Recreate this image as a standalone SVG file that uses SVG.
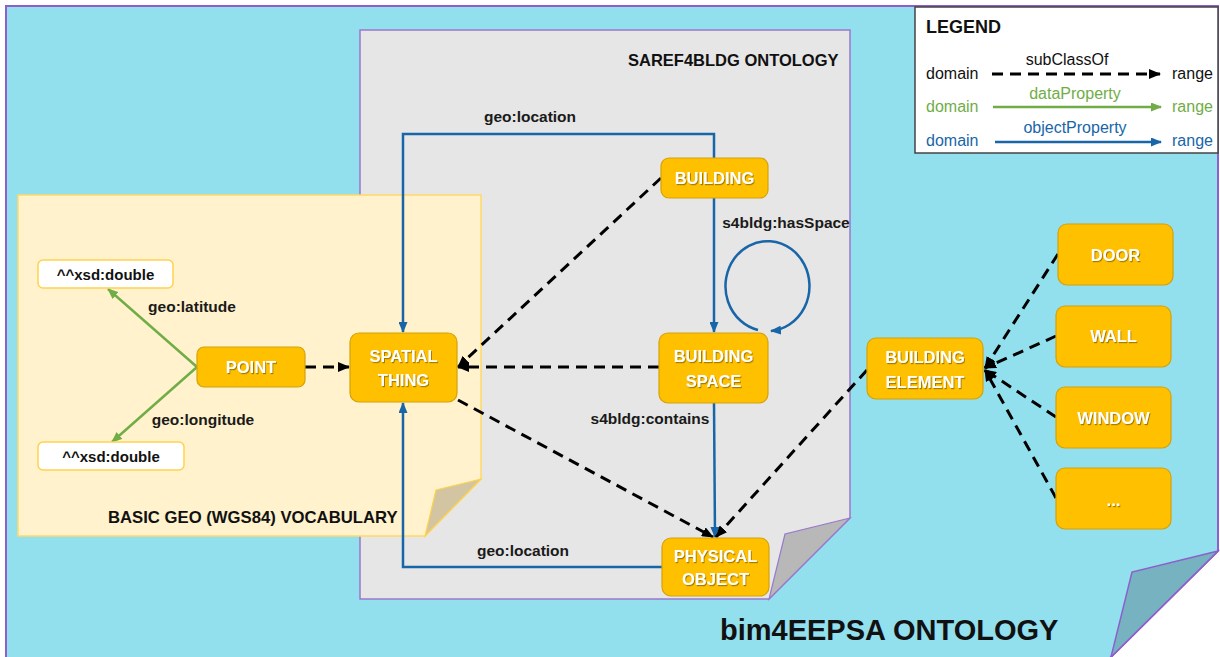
<svg xmlns="http://www.w3.org/2000/svg" width="1220" height="657" viewBox="0 0 1220 657">
<defs>
<style>
.node{fill:#ffc000;stroke:#d4a20a;stroke-width:1.2}
.lit{fill:#ffffff;stroke:#ffd24d;stroke-width:1.5}
.nt{font-family:"Liberation Sans",Arial,sans-serif;font-weight:bold;font-size:16.5px;fill:#ffffff;text-anchor:middle;filter:url(#ts)}
.lt{font-family:"Liberation Sans",Arial,sans-serif;font-weight:bold;font-size:15px;fill:#111111;text-anchor:middle}
.el{font-family:"Liberation Sans",Arial,sans-serif;font-weight:bold;font-size:15.5px;fill:#1a1a1a;text-anchor:middle}
.title{font-family:"Liberation Sans",Arial,sans-serif;font-weight:bold;font-size:16.5px;fill:#111111}
.lg{font-family:"Liberation Sans",Arial,sans-serif;font-size:16px}
.sub{fill:none;stroke:#000;stroke-width:3;stroke-dasharray:11 7}
.obj{fill:none;stroke:#1866a8;stroke-width:2.5}
.dat{fill:none;stroke:#70ad47;stroke-width:2.5}
</style>
<filter id="ts" x="-10%" y="-20%" width="130%" height="150%">
<feDropShadow dx="1" dy="1.2" stdDeviation="0.6" flood-color="#5a4200" flood-opacity="0.55"/>
</filter>
<marker id="ab" markerWidth="12" markerHeight="10" refX="11" refY="5" orient="auto" markerUnits="userSpaceOnUse"><path d="M0,0 L12,5 L0,10 Z" fill="#000"/></marker>
<marker id="au" markerWidth="11" markerHeight="9" refX="10" refY="4.5" orient="auto" markerUnits="userSpaceOnUse"><path d="M0,0 L11,4.5 L0,9 Z" fill="#1866a8"/></marker>
<marker id="ag" markerWidth="11" markerHeight="9" refX="10" refY="4.5" orient="auto" markerUnits="userSpaceOnUse"><path d="M0,0 L11,4.5 L0,9 Z" fill="#70ad47"/></marker>
</defs>

<g id="bim4eepsa-panel">
<path d="M6,6 H1218 V551 L1108,660 H6 Z" fill="#92dfee" stroke="#8e5ecc" stroke-width="2"/>
<path d="M1218,551 L1132,572 L1111,657 Z" fill="#76b2bf" stroke="#8e5ecc" stroke-width="1.5"/>
<text class="title" x="720" y="640" style="font-size:29px">bim4EEPSA ONTOLOGY</text>
</g>

<g id="saref4bldg-panel">
<path d="M360,30 H850 V518 L769,599 H360 Z" fill="#e6e6e6" stroke="#9a78cc" stroke-width="1.5"/>
<path d="M850,518 L785,534 L769,599 Z" fill="#b8b8b8" stroke="#9a78cc" stroke-width="1.2"/>
<text class="title" x="628" y="66">SAREF4BLDG ONTOLOGY</text>
</g>

<g id="geo-panel">
<path d="M18,195 H481 V479 L425,536 H18 Z" fill="#fff2cc" stroke="#ffd966" stroke-width="1.5"/>
<path d="M481,479 L436,490 L425,536 Z" fill="#d3c5a1" stroke="#ffd24d" stroke-width="1.2"/>
<text class="title" x="108" y="523" style="font-size:16.7px">BASIC GEO (WGS84) VOCABULARY</text>
</g>

<g id="legend">
<rect x="915" y="7" width="303" height="146" fill="#ffffff" stroke="#444" stroke-width="1.5"/>
<text class="title" x="926" y="33" style="font-size:18px">LEGEND</text>
<text class="lg" x="1067" y="65" text-anchor="middle" fill="#111">subClassOf</text>
<text class="lg" x="926" y="79" fill="#111">domain</text>
<line class="sub" x1="992" y1="74" x2="1160" y2="74" marker-end="url(#ab)"/>
<text class="lg" x="1172" y="79" fill="#111">range</text>
<text class="lg" x="1075" y="99" text-anchor="middle" fill="#70ad47">dataProperty</text>
<text class="lg" x="926" y="112" fill="#70ad47">domain</text>
<line class="dat" x1="993" y1="107" x2="1161" y2="107" marker-end="url(#ag)"/>
<text class="lg" x="1172" y="112" fill="#70ad47">range</text>
<text class="lg" x="1075" y="133" text-anchor="middle" fill="#1866a8">objectProperty</text>
<text class="lg" x="926" y="146" fill="#1866a8">domain</text>
<line class="obj" x1="995" y1="142" x2="1161" y2="142" marker-end="url(#au)"/>
<text class="lg" x="1172" y="146" fill="#1866a8">range</text>
</g>

<g id="connectors">
<path class="obj" d="M714,158 V134 H403 V332" marker-end="url(#au)"/>
<path class="obj" d="M662,567 H403 V403" marker-end="url(#au)"/>
<path class="obj" d="M714,198 V332" marker-end="url(#au)"/>
<path class="obj" d="M758,330 A42 45 0 1 1 771,331" marker-end="url(#au)"/>
<path class="obj" d="M714,403 L715,537" marker-end="url(#au)"/>
<line class="dat" x1="197" y1="367" x2="108" y2="289" marker-end="url(#ag)"/>
<line class="dat" x1="197" y1="367" x2="112" y2="442" marker-end="url(#ag)"/>
<line class="sub" x1="305" y1="367" x2="349" y2="367" marker-end="url(#ab)"/>
<line class="sub" x1="661" y1="178" x2="458" y2="367" marker-end="url(#ab)"/>
<line class="sub" x1="659" y1="367" x2="458" y2="367" marker-end="url(#ab)"/>
<line class="sub" x1="458" y1="400" x2="713" y2="537" marker-end="url(#ab)"/>
<line class="sub" x1="867" y1="370" x2="716" y2="537" marker-end="url(#ab)"/>
<line class="sub" x1="1058" y1="254" x2="985" y2="368" marker-end="url(#ab)"/>
<line class="sub" x1="1056" y1="336" x2="985" y2="368" marker-end="url(#ab)"/>
<line class="sub" x1="1056" y1="417" x2="985" y2="370" marker-end="url(#ab)"/>
<line class="sub" x1="1056" y1="498" x2="985" y2="370" marker-end="url(#ab)"/>
<text class="el" x="530" y="122">geo:location</text>
<text class="el" x="523" y="556">geo:location</text>
<text class="el" x="786" y="228">s4bldg:hasSpace</text>
<text class="el" x="650" y="424">s4bldg:contains</text>
<text class="el" x="192" y="312">geo:latitude</text>
<text class="el" x="203" y="425">geo:longitude</text>
</g>

<g id="building">
<rect class="node" x="661" y="158" width="107" height="40" rx="8"/>
<text class="nt" x="714.5" y="184">BUILDING</text>
</g>
<g id="building-space">
<rect class="node" x="659" y="333" width="109" height="70" rx="9"/>
<text class="nt" x="713.5" y="362">BUILDING</text>
<text class="nt" x="713.5" y="387">SPACE</text>
</g>
<g id="spatial-thing">
<rect class="node" x="350" y="333" width="107" height="69" rx="9"/>
<text class="nt" x="403.5" y="362">SPATIAL</text>
<text class="nt" x="403.5" y="386">THING</text>
</g>
<g id="point">
<rect class="node" x="197" y="347" width="108" height="40" rx="7"/>
<text class="nt" x="251" y="373">POINT</text>
</g>
<g id="xsd-double-lat">
<rect class="lit" x="38" y="260" width="135" height="28" rx="5"/>
<text class="lt" x="105.5" y="280">^^xsd:double</text>
</g>
<g id="xsd-double-long">
<rect class="lit" x="38" y="442" width="146" height="28" rx="5"/>
<text class="lt" x="111" y="462">^^xsd:double</text>
</g>
<g id="physical-object">
<rect class="node" x="662" y="538" width="107" height="58" rx="9"/>
<text class="nt" x="715.5" y="562">PHYSICAL</text>
<text class="nt" x="715.5" y="585">OBJECT</text>
</g>
<g id="building-element">
<rect class="node" x="867" y="338" width="116" height="61" rx="9"/>
<text class="nt" x="925" y="363">BUILDING</text>
<text class="nt" x="925" y="388">ELEMENT</text>
</g>
<g id="door">
<rect class="node" x="1058" y="224" width="115" height="61" rx="9"/>
<text class="nt" x="1115.5" y="261">DOOR</text>
</g>
<g id="wall">
<rect class="node" x="1056" y="306" width="115" height="61" rx="9"/>
<text class="nt" x="1113.5" y="342">WALL</text>
</g>
<g id="window">
<rect class="node" x="1056" y="387" width="115" height="61" rx="9"/>
<text class="nt" x="1113.5" y="424">WINDOW</text>
</g>
<g id="more">
<rect class="node" x="1056" y="468" width="115" height="61" rx="9"/>
<text class="nt" x="1113.5" y="506">...</text>
</g>
</svg>
